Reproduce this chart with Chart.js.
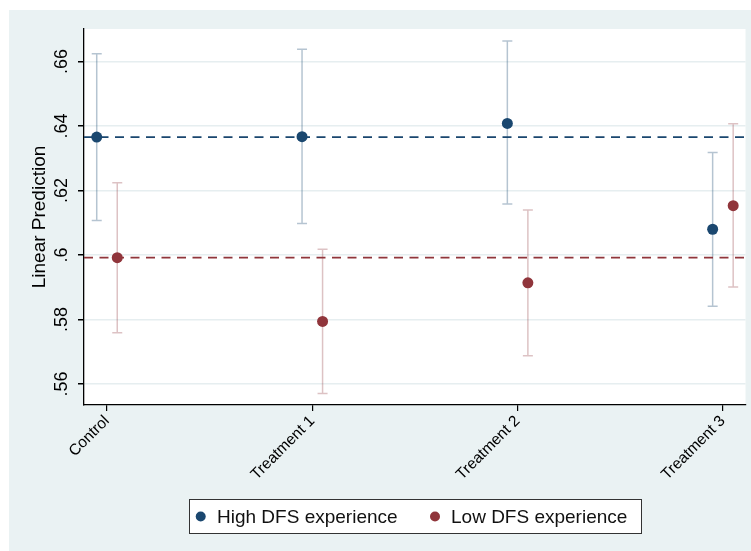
<!DOCTYPE html>
<html>
<head>
<meta charset="utf-8">
<script src="https://cdn.jsdelivr.net/npm/chart.js@4.4.1/dist/chart.umd.min.js"></script>
<style>
  html, body { margin: 0; padding: 0; background: #fff; }
  canvas { display: block; }
</style>
</head>
<body>
<canvas id="chart" width="751" height="551"></canvas>
<script>
// Predicted values with 95% confidence limits, by treatment arm
const categories  = ['Control', 'Treatment 1', 'Treatment 2', 'Treatment 3'];
const seriesNames = ['High DFS experience', 'Low DFS experience'];

const highMean  = [0.6366, 0.6367, 0.6408, 0.6080];
const highLower = [0.6107, 0.6098, 0.6158, 0.5841];
const highUpper = [0.6624, 0.6638, 0.6664, 0.6318];

const lowMean   = [0.5992, 0.5794, 0.5914, 0.6153];
const lowLower  = [0.5759, 0.5571, 0.5688, 0.5901];
const lowUpper  = [0.6224, 0.6018, 0.6140, 0.6407];

const yTickValues = [0.56, 0.58, 0.60, 0.62, 0.64, 0.66];
const yTickLabels = ['.56', '.58', '.6', '.62', '.64', '.66'];

// Styling
const NAVY = '#1A476F', MAROON = '#90353B';
const NAVY_CI = 'rgba(26,71,111,0.32)', MAROON_CI = 'rgba(144,53,59,0.30)';
const FONT = "'Liberation Sans', Arial, Helvetica, sans-serif";
const X_MIN = 0.888, X_MAX = 4.110;
const Y_MIN = 0.5535, Y_MAX = 0.6701;
const SHIFT = 0.05;            // horizontal dodge of the two groups
const FRAME = { left: 9, top: 10 };

const points = (mean, lo, hi, dx) =>
  mean.map((m, i) => ({ x: i + 1 + dx, y: m, lo: lo[i], hi: hi[i] }));

// Control-group level drawn as a dashed reference across the panel
const refLine = (v) => [{ x: X_MIN, y: v }, { x: X_MAX, y: v }];

const backdrop = {
  id: 'backdrop',
  beforeDraw(chart) {
    const { ctx, chartArea: a } = chart;
    ctx.save();
    ctx.fillStyle = '#ffffff';
    ctx.fillRect(0, 0, chart.width, chart.height);
    ctx.fillStyle = '#EAF2F3';
    ctx.fillRect(FRAME.left, FRAME.top, chart.width - FRAME.left, chart.height - FRAME.top);
    ctx.fillStyle = '#ffffff';
    ctx.fillRect(a.left, a.top, a.right - a.left, a.bottom - a.top);
    ctx.restore();
  }
};

const errorBars = {
  id: 'errorBars',
  beforeDatasetsDraw(chart) {
    const { ctx, scales: { x, y } } = chart;
    chart.data.datasets.forEach(ds => {
      if (!ds.ciColor) return;
      ctx.save();
      ctx.strokeStyle = ds.ciColor;
      ctx.lineWidth = 1.5;
      ds.data.forEach(p => {
        const px = x.getPixelForValue(p.x);
        const top = y.getPixelForValue(p.hi);
        const bot = y.getPixelForValue(p.lo);
        ctx.beginPath();
        ctx.moveTo(px, top); ctx.lineTo(px, bot);
        ctx.moveTo(px - 5, top); ctx.lineTo(px + 5, top);
        ctx.moveTo(px - 5, bot); ctx.lineTo(px + 5, bot);
        ctx.stroke();
      });
      ctx.restore();
    });
  }
};

// Vertical y tick labels and the boxed legend below the panel
const annotations = {
  id: 'annotations',
  afterDraw(chart) {
    const { ctx } = chart;
    const y = chart.scales.y;
    ctx.save();
    ctx.fillStyle = '#000';
    ctx.font = '18px ' + FONT;
    ctx.textAlign = 'center';
    ctx.textBaseline = 'middle';
    y.ticks.forEach(t => {
      ctx.save();
      ctx.translate(61, y.getPixelForValue(t.value));
      ctx.rotate(-Math.PI / 2);
      ctx.fillText(t.label, 0, 1);
      ctx.restore();
    });

    // legend box
    const box = { x: 189.5, y: 499.5, w: 452, h: 34 };
    ctx.fillStyle = '#fff';
    ctx.fillRect(box.x, box.y, box.w, box.h);
    ctx.strokeStyle = '#333';
    ctx.lineWidth = 1;
    ctx.strokeRect(box.x, box.y, box.w, box.h);
    const items = chart.data.datasets.filter(d => d.ciColor);
    const markerX = [200.7, 435];
    const textX = [217, 451];
    const cy = box.y + box.h / 2;
    ctx.font = '19px ' + FONT;
    ctx.textAlign = 'left';
    items.forEach((d, i) => {
      ctx.fillStyle = d.backgroundColor;
      ctx.beginPath();
      ctx.arc(markerX[i], cy, 5, 0, Math.PI * 2);
      ctx.fill();
      ctx.fillStyle = '#111';
      ctx.fillText(d.label, textX[i], cy + 1);
    });
    ctx.restore();
  }
};

new Chart(document.getElementById('chart'), {
  data: {
    datasets: [
      {
        type: 'scatter', label: seriesNames[0],
        data: points(highMean, highLower, highUpper, -SHIFT),
        backgroundColor: NAVY, borderColor: NAVY, borderWidth: 0,
        pointRadius: 5.5, pointHoverRadius: 5.5, ciColor: NAVY_CI, order: 0
      },
      {
        type: 'scatter', label: seriesNames[1],
        data: points(lowMean, lowLower, lowUpper, SHIFT),
        backgroundColor: MAROON, borderColor: MAROON, borderWidth: 0,
        pointRadius: 5.5, pointHoverRadius: 5.5, ciColor: MAROON_CI, order: 0
      },
      {
        type: 'line', label: 'ref-high', data: refLine(highMean[0]),
        borderColor: NAVY, borderWidth: 1.8, borderDash: [9, 6.5],
        pointRadius: 0, fill: false, order: 1
      },
      {
        type: 'line', label: 'ref-low', data: refLine(lowMean[0]),
        borderColor: MAROON, borderWidth: 1.8, borderDash: [9, 6.5],
        pointRadius: 0, fill: false, order: 1
      }
    ]
  },
  options: {
    responsive: false,
    animation: false,
    events: [],
    layout: { padding: { left: FRAME.left, top: 29, right: 4, bottom: 0 } },
    plugins: { legend: { display: false }, tooltip: { enabled: false } },
    scales: {
      x: {
        type: 'linear', position: 'bottom', min: X_MIN, max: X_MAX,
        afterBuildTicks: s => { s.ticks = categories.map((c, i) => ({ value: i + 1 })); },
        afterFit: s => { s.height = 146; },
        ticks: {
          autoSkip: false, minRotation: 45, maxRotation: 45, padding: 1,
          color: '#000', font: { family: FONT, size: 15.5 },
          callback: v => categories[Math.round(v) - 1]
        },
        grid: { drawOnChartArea: false, drawTicks: true, tickLength: 6, tickColor: '#000', lineWidth: 1.2 },
        border: { display: true, color: '#000', width: 1.3 }
      },
      y: {
        type: 'linear', position: 'left', min: Y_MIN, max: Y_MAX,
        afterBuildTicks: s => { s.ticks = yTickValues.map(v => ({ value: v })); },
        afterFit: s => { s.width = 75; },
        ticks: {
          display: false,
          callback: v => yTickLabels[yTickValues.findIndex(t => Math.abs(t - v) < 1e-9)]
        },
        grid: { color: '#E6EEF0', lineWidth: 1.5, drawTicks: true, tickLength: 6, tickColor: '#000' },
        border: { display: true, color: '#000', width: 1.3 },
        title: {
          display: true, text: 'Linear Prediction', color: '#000',
          font: { family: FONT, size: 19, lineHeight: 1.2 },
          padding: { top: 19.6, bottom: 0 }
        }
      }
    }
  },
  plugins: [backdrop, errorBars, annotations]
});
</script>
</body>
</html>
